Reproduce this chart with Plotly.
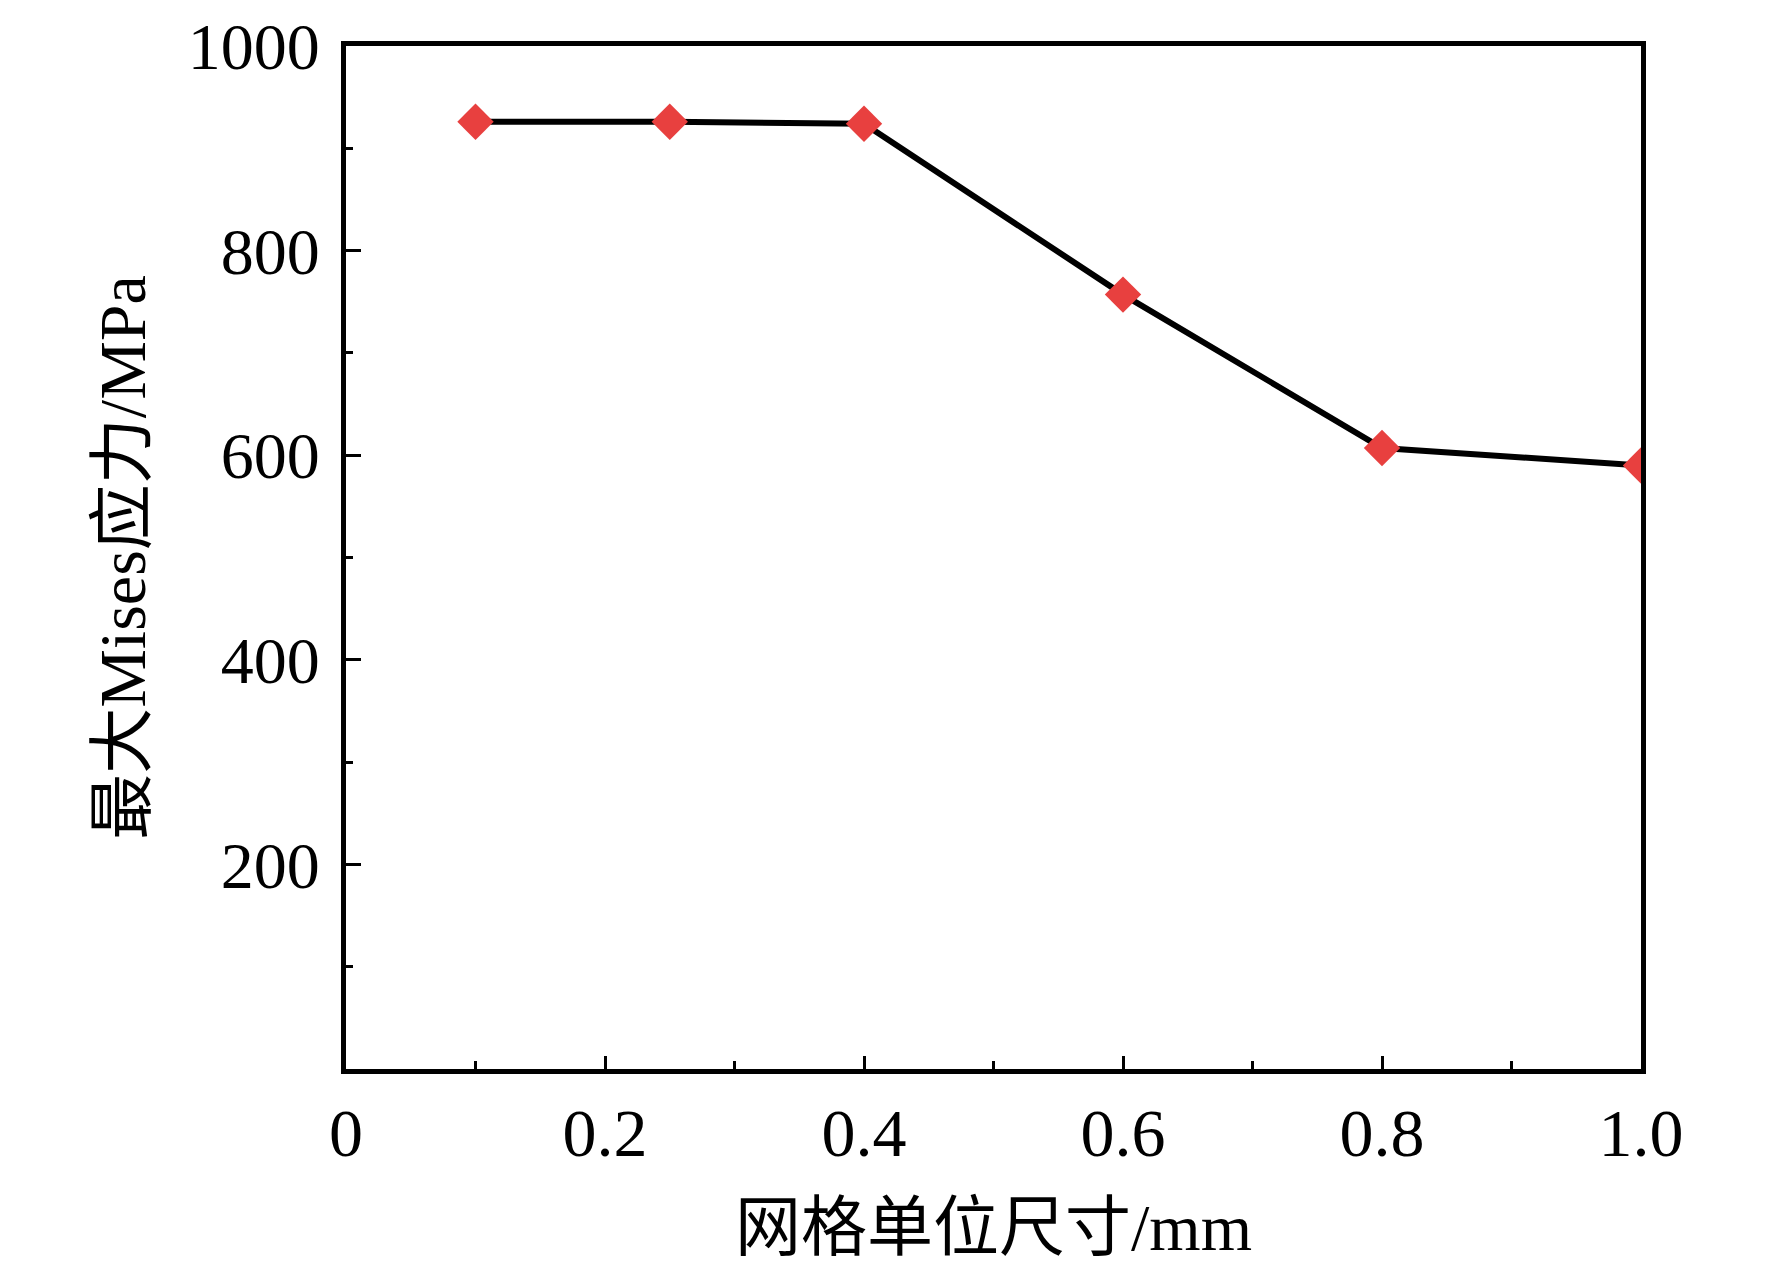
import plotly.graph_objects as go

mesh_size = [0.1, 0.25, 0.4, 0.6, 0.8, 1.0]
max_mises = [926, 926, 924, 757, 607, 590]

x_tickvals = [0, 0.2, 0.4, 0.6, 0.8, 1.0]
x_ticktext = ["0", "0.2", "0.4", "0.6", "0.8", "1.0"]
y_tickvals = [200, 400, 600, 800, 1000]
y_ticktext = ["200", "400", "600", "800", "1000"]

x_title = "网格单位尺寸/mm"
y_title = "最大Mises应力/MPa"

font_family = "Liberation Serif, Times New Roman, Noto Sans CJK SC, serif"

fig = go.Figure()
fig.add_trace(go.Scatter(
    x=mesh_size, y=max_mises, mode="lines+markers",
    line=dict(color="black", width=6),
    marker=dict(symbol="diamond", size=28, color="#e8403f", line=dict(width=0)),
    cliponaxis=True, showlegend=False,
))

fig.update_layout(
    width=1772, height=1272,
    margin=dict(l=338, r=139, t=38, b=211),
    paper_bgcolor="white", plot_bgcolor="white",
    font=dict(family=font_family, color="black", size=66),
)
fig.update_xaxes(
    range=[0, 1.0], tickvals=x_tickvals, ticktext=x_ticktext,
    ticks="inside", ticklen=13, tickwidth=3, tickcolor="black",
    minor=dict(ticks="inside", ticklen=8, tickwidth=3, tickcolor="black", dtick=0.1),
    showline=True, linewidth=5, linecolor="black", mirror=True,
    showgrid=False, zeroline=False, automargin=False,
    ticklabelstandoff=0, ticklabeloverflow="allow",
    tickfont=dict(size=68, family=font_family),
    title=dict(text=x_title, font=dict(size=66, family=font_family), standoff=36),
)
fig.update_yaxes(
    range=[0, 1000], tickvals=y_tickvals, ticktext=y_ticktext,
    ticks="inside", ticklen=15, tickwidth=3, tickcolor="black",
    minor=dict(ticks="inside", ticklen=7, tickwidth=3, tickcolor="black", dtick=100),
    showline=True, linewidth=5, linecolor="black", mirror=True,
    showgrid=False, zeroline=False, automargin=False,
    ticklabelstandoff=8, ticklabeloverflow="allow",
    tickfont=dict(size=66, family=font_family),
    title=dict(text=y_title, font=dict(size=66, family=font_family), standoff=22),
)

fig.write_html("out.html")
